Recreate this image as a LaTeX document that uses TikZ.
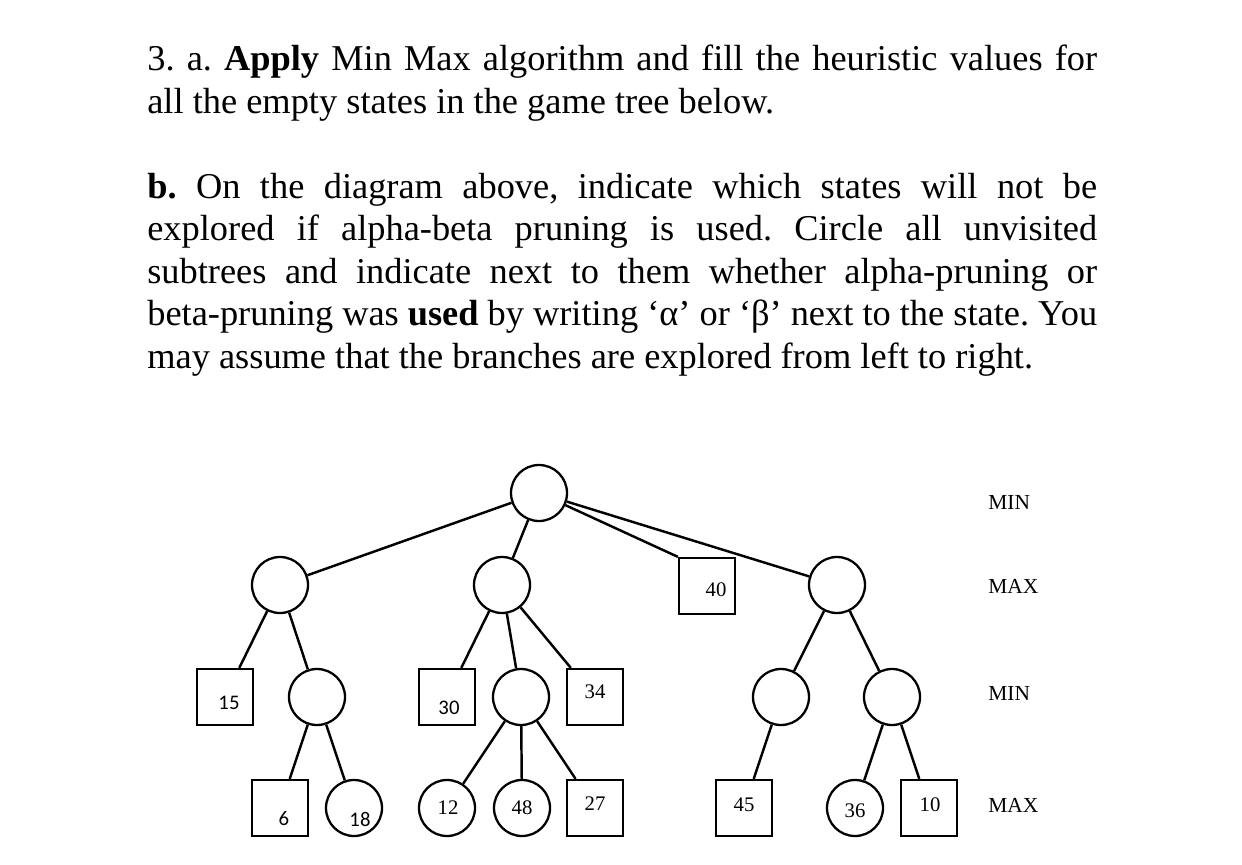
\documentclass[tikz,border=0pt]{standalone}
\usepackage{fontspec}
\setmainfont{Liberation Serif}
\newfontfamily\calfont{Carlito}
\usetikzlibrary{calc}
\frenchspacing

\begin{document}
\begin{tikzpicture}[x=0.02cm,y=-0.02cm,every node/.style={inner sep=0pt},
    state/.style={circle,draw,line width=1.3pt,minimum size=1.12cm},
    leaf/.style={rectangle,draw,line width=1.3pt,minimum size=1.12cm},
    num/.style={font=\fontsize{11.8}{13}\selectfont},
    cnum/.style={font=\calfont\fontsize{11.8}{13}\selectfont},
    level/.style={anchor=west,font=\fontsize{12.2}{14}\selectfont},
    para/.style={anchor=base west,text width=19cm,align=justify,font=\fontsize{20.7}{24.2}\selectfont},
    edge/.style={line width=1.4pt}]
  \useasboundingbox (0,0) rectangle (1242,865);
  % question text
  \node[para] (qa) at (147,71) {3. a. \textbf{Apply} Min Max algorithm and fill the heuristic values for\linebreak all the empty states in the game tree below.};
  \node[para] (qb) at (147,198) {\textbf{b.} On the diagram above, indicate which states will not be\linebreak explored if alpha-beta pruning is used. Circle all unvisited\linebreak subtrees and indicate next to them whether alpha-pruning or\linebreak beta-pruning was \textbf{used} by writing ‘α’ or ‘β’ next to the state. You\linebreak may assume that the branches are explored from left to right.};
  % game tree
  \node[state] (root) at (539,493) {};
  \node[state] (a) at (280,585) {};
  \node[state] (b) at (502,585) {};
  \node[leaf] (c) at (707,586) {};
  \node[state] (d) at (837,585) {};
  \node[leaf] (a1) at (225,697) {};
  \node[state] (a2) at (317,697) {};
  \node[leaf] (b1) at (447,697) {};
  \node[state] (b2) at (521,697) {};
  \node[leaf] (b3) at (595,697) {};
  \node[state] (d1) at (781,697) {};
  \node[state] (d2) at (892,697) {};
  \node[leaf] (a21) at (280,808) {};
  \node[state] (a22) at (354,808) {};
  \node[state] (b21) at (447,808) {};
  \node[state] (b22) at (522,808) {};
  \node[leaf] (b23) at (595,808) {};
  \node[leaf] (d11) at (744,808) {};
  \node[state] (d21) at (855,808) {};
  \node[leaf] (d22) at (929,808) {};
  % leaf values
  \node[num] (v40) at (716,590) {40};
  \node[cnum] (v15) at (229,703) {15};
  \node[cnum] (v30) at (449,708) {30};
  \node[num] (v34) at (595,692) {34};
  \node[cnum] (v6) at (284,819) {6};
  \node[cnum] (v18) at (360,819) {18};
  \node[num] (v12) at (448,808) {12};
  \node[num] (v48) at (522,808) {48};
  \node[num] (v27) at (595,804) {27};
  \node[num] (v45) at (744,805) {45};
  \node[num] (v36) at (855,811) {36};
  \node[num] (v10) at (930,805) {10};
  % edges
  \draw[edge] (root) -- (a);
  \draw[edge] (root) -- (b);
  \draw[edge] (root) -- (c.north west);
  \draw[edge] (root) -- (d);
  \draw[edge] (a) -- (a1);
  \draw[edge] (a) -- (a2);
  \draw[edge] (a2) -- (a21);
  \draw[edge] (a2) -- (a22);
  \draw[edge] (b) -- (b1);
  \draw[edge] (b) -- (b2);
  \draw[edge] (b) -- (b3);
  \draw[edge] (b2) -- (b21);
  \draw[edge] (b2) -- (b22);
  \draw[edge] (b2) -- (b23);
  \draw[edge] (d) -- (d1);
  \draw[edge] (d) -- (d2);
  \draw[edge] (d1) -- (d11);
  \draw[edge] (d2) -- (d21);
  \draw[edge] (d2) -- (d22);
  % levels
  \node[level] (lmin1) at (988,502) {MIN};
  \node[level] (lmax1) at (988,586) {MAX};
  \node[level] (lmin2) at (988,693) {MIN};
  \node[level] (lmax2) at (988,805) {MAX};
\end{tikzpicture}
\end{document}
